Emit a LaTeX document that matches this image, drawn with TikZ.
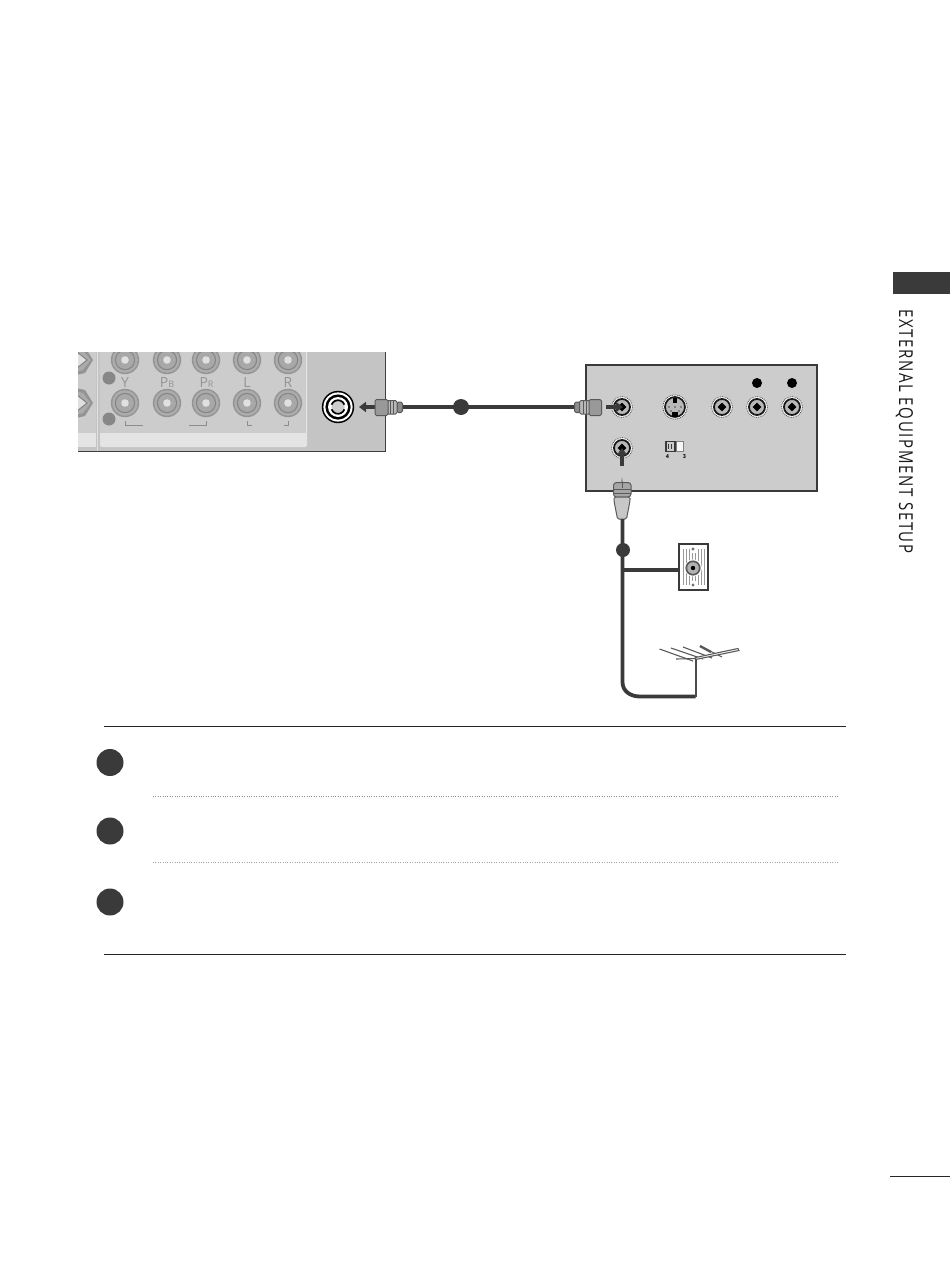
\documentclass[tikz,border=0pt]{standalone}
\usepackage{fontspec}
\usepackage{graphicx}
\setmainfont{Open Sans}
\usetikzlibrary{arrows.meta,calc}
\definecolor{ink}{HTML}{3A3A3A}
\definecolor{panelgray}{HTML}{C4C4C4}
\definecolor{panellight}{HTML}{E4E4E4}
\definecolor{panelmid}{HTML}{CCCCCC}
\tikzset{
  cable/.style={draw=ink,line width=3.6pt},
  rule/.style={draw=black!85,line width=1pt},
  dotrule/.style={draw=black!45,line width=0.8pt,dash pattern=on 1pt off 1.4pt},
  stepdot/.style={circle,fill=ink,minimum size=27pt,inner sep=0pt},
  marker/.style={circle,fill=ink,minimum size=16pt,inner sep=0pt},
  smallmarker/.style={circle,fill=ink,minimum size=14pt,inner sep=0pt},
  labelblack/.style={circle,fill=black,minimum size=10pt,inner sep=0pt},
  greydot/.style={circle,fill=black!47,minimum size=13pt,inner sep=0pt},
  jacklabel/.style={text=black!42,font=\fontsize{14}{14}\selectfont,inner sep=0pt},
  bracket/.style={draw=black!45,line width=0.8pt},
  antenna/.style={draw=black!65,line width=1.1pt},
  pointer/.style={draw=ink,line width=4.6pt,-{Triangle[length=7pt,width=10pt]}},
  plug/.style={fill=black!40,draw=black!65,line width=1pt,rounded corners=1.5pt},
}
\newcommand{\greyjack}[2]{%
  \fill[black!42] (#1,#2) circle (14.2);
  \fill[black!33] (#1,#2) circle (12.8);
  \fill[black!48] (#1,#2) circle (10.2);
  \fill[black!34] (#1,#2) circle (9);
  \fill[black!12] (#1,#2) circle (3.8);
}
\newcommand{\blackjack}[2]{%
  \draw[black!70,line width=0.7pt,dash pattern=on 1pt off .8pt,fill=white] (#1,#2) circle (10.4);
  \draw[black!90,line width=1.8pt,fill=black!28] (#1,#2) circle (8);
  \fill[black] (#1,#2) ++(-4.4,0) -- ++(4.4,-4.4) -- ++(4.4,4.4) -- ++(-4.4,4.4) -- cycle;
}
\begin{document}
\begin{tikzpicture}[x=1pt,y=-1pt]
\useasboundingbox (0,0) rectangle (950,1266);
% --- left panel
\begin{scope}
\clip (78,352) rectangle (386,453);
\fill[panelgray] (78,352) rectangle (385,451.5);
\fill[panellight] (78,345) rectangle (95.5,447);
\fill[panelmid] (78,345) rectangle (95.5,432.5);
\fill[panellight,rounded corners=2pt] (100,340) rectangle (307,447);
\fill[panelmid] (100,340) rectangle (306,432.5);
\draw[black!12,line width=1pt] (97.5,352) -- (97.5,451);
\foreach \yy in {360,403}{
  \fill[black!42] (76,\yy-15) -- (85,\yy-13) -- (93,\yy) -- (85,\yy+13) -- (76,\yy+15) -- cycle;
  \fill[black!33] (76,\yy-12) -- (83,\yy-10) -- (90.5,\yy) -- (83,\yy+10) -- (76,\yy+12) -- cycle;
  \fill[black!48] (76,\yy-9.5) -- (88,\yy) -- (76,\yy+9.5) -- cycle;
  \fill[black!12] (76,\yy-8) -- (86,\yy) -- (76,\yy+8) -- cycle;
}
\foreach \xx in {125,167,206,247,288}{\greyjack{\xx}{360}\greyjack{\xx}{403}}
\end{scope}
\draw[black!75,line width=1pt] (78,451.5) -- (385.5,451.5) -- (385.5,352);
\node[greydot] (dotA) at (109,378) {};
\node[greydot] (dotB) at (109,419) {};
\node[jacklabel] (lblY) at (125,382.5) {Y};
\node[jacklabel] (lblPb) at (167,382.5) {P\fontsize{9}{9}\selectfont B};
\node[jacklabel] (lblPr) at (206.5,382.5) {P\fontsize{9}{9}\selectfont R};
\node[jacklabel] (lblL) at (247,382.5) {L};
\node[jacklabel] (lblR) at (288,382.5) {R};
\draw[bracket] (125.5,421) -- (125.5,425.5) -- (142.5,425.5);
\draw[bracket] (189,425.5) -- (206.5,425.5) -- (206.5,421);
\draw[bracket] (247.5,421) -- (247.5,425.5) -- (252,425.5);
\draw[bracket] (288,421) -- (288,425.5) -- (284,425.5);
% coaxial socket
\fill[black] (338,407) circle (16.2);
\fill[white] (338,407) circle (14.6);
\fill[black] (338,407) circle (12.6);
\fill[white] (338,407) circle (10);
\fill[panelmid] (338,407) circle (6.6);
\draw[black,line width=1.7pt] (338,407) ++(20:6.8) arc (20:160:6.8);
\draw[black,line width=1.7pt] (338,407) ++(200:6.8) arc (200:340:6.8);
% --- cable 1
\coordinate (plugL) at (402,407);
\coordinate (plugR) at (575,407);
\draw[cable] (plugL) -- (plugR);
\node[marker] (mark1) at (461,407) {};
% left plug
\coordinate (tipL) at (359,407);
\coordinate (plugLback) at (376,407);
\draw[pointer] (plugLback) -- (tipL);
\filldraw[plug,fill=black!45] (397,402) rectangle (402.5,412.5);
\filldraw[plug,fill=black!28] (387,400.5) rectangle (397,414);
\filldraw[plug] (375,399.5) rectangle (388,415.5);
\draw[black!65,line width=.6pt] (390.5,400.5) -- (390.5,414) (393.5,400.5) -- (393.5,414);
% --- right panel
\draw[ink,line width=2pt,fill=panelmid] (586,365) rectangle (817,491);
\blackjack{622}{407}
\blackjack{722}{407}
\blackjack{757}{407}
\blackjack{792}{407}
\blackjack{622}{448}
\node[labelblack] (dotC) at (757,383) {};
\node[labelblack] (dotD) at (792,383) {};
% S-video
\draw[black!70,line width=0.7pt,dash pattern=on 1pt off .8pt,fill=white] (675,407) circle (12.2);
\draw[black!90,line width=1.7pt,fill=black!28] (675,407) circle (10);
\fill[black] (673,397.5) rectangle (677,402.5);
\fill[black] (672,412) rectangle (678,417);
\foreach \a/\b in {669/407,681/407,675/407,671/411,679/411}{\fill[black!70] (\a,\b) circle (.8);}
% switch
\draw[ink,line width=1.4pt,fill=black!20] (666,441.5) rectangle (675,451.5);
\fill[black!3] (675.7,441.5) rectangle (683.5,451.5);
\draw[black!50,line width=.4pt] (675.7,441.5) rectangle (683.5,451.5);
\draw[ink,line width=.8pt] (668.8,444) -- (668.8,449) (671.6,444) -- (671.6,449);
\node[inner sep=0pt,font=\fontsize{5.5}{5.5}\selectfont\bfseries] (sw4) at (667.5,457) {4};
\node[inner sep=0pt,font=\fontsize{5.5}{5.5}\selectfont\bfseries] (sw3) at (684.5,457) {3};
% right plug + arrow
\coordinate (plugRend) at (606,407);
\coordinate (tipR) at (623,407);
\draw[pointer] (plugRend) -- (tipR);
\filldraw[plug,fill=black!45] (574.5,402) rectangle (580,412.5);
\filldraw[plug,fill=black!28] (579.5,400.5) rectangle (590,414);
\filldraw[plug] (589,399.5) rectangle (601.5,415.5);
\draw[black!65,line width=.6pt] (583,400.5) -- (583,414) (586,400.5) -- (586,414);
% --- lower arrow & F-plug
\coordinate (tipF) at (622,448);
\coordinate (tailF) at (622,466);
\draw[pointer] (tailF) -- (tipF);
\fill[black!45] (620.5,485) -- (622,477) -- (623.5,485) -- cycle;
\filldraw[plug,fill=black!35,rounded corners=3pt] (613.5,482.5) rectangle (631,497);
\draw[black!65,line width=.8pt] (622,482.5) -- (622,488) (613.5,489) -- (631,489) (613.5,493) -- (631,493);
\filldraw[plug,fill=black!22,rounded corners=1.5pt] (614,497) -- (630,497) -- (630,501) -- (626.5,519) -- (617.5,519) -- (614,501) -- cycle;
% --- antenna cable
\node[smallmarker] (mark2) at (623,550) {};
\coordinate (fBack) at (622.5,519);
\coordinate (bendA) at (622.5,682);
\coordinate (bendB) at (640,696.5);
\coordinate (antFoot) at (695.5,696.5);
\coordinate (antTop) at (695.5,657);
\draw[ink,line width=3.8pt] (fBack) -- (bendA) .. controls (622.5,691) and (630,696.5) .. (bendB) -- (antFoot);
\draw[black!70,line width=2pt] (antFoot) -- (antTop);
% wall plate
\node[draw=ink,line width=1.4pt,fill=white,minimum width=29pt,minimum height=46pt,inner sep=0pt] (plate) at (693.5,567) {};
\draw[cable] (624,570) -- (plate.west |- 0,570);
\foreach \xx in {683,686,689,698,701,704}{\draw[black!40,line width=.6pt] (\xx,549) -- (\xx,585);}
\foreach \xx in {692,695}{\draw[black!40,line width=.6pt] (\xx,553) -- (\xx,581);}
\fill[white] (693.3,568) circle (8.6);
\fill[black!65] (693,568) circle (7.6);
\fill[black!30] (693,568) circle (5.8);
\fill[black] (693,568) circle (2.2);
\draw[black!60,line width=.6pt,fill=white] (693,549) circle (1.1);
\draw[black!60,line width=.6pt,fill=white] (693,585) circle (1.1);
% antenna
\draw[antenna] (659.5,649) -- (693,661);
\draw[antenna] (671,648) -- (703,659);
\draw[antenna] (683,647) -- (712,658);
\draw[antenna] (700,646) -- (722,657);
\draw[antenna,line width=2.4pt] (700,646) -- (711,652);
\draw[antenna] (676,659) -- (695.5,658.5);
\draw[antenna,fill=white] (695.5,657.5) -- (738,648.5) -- (739,650.5) -- (695.5,659.5) -- cycle;
% --- rules and steps
\coordinate (r1a) at (104,726.5); \coordinate (r1b) at (846,726.5);
\coordinate (r2a) at (104,954.5); \coordinate (r2b) at (846,954.5);
\draw[rule] (r1a) -- (r1b);
\draw[rule] (r2a) -- (r2b);
\coordinate (d1a) at (153,796.5); \coordinate (d1b) at (838,796.5);
\coordinate (d2a) at (153,862.5); \coordinate (d2b) at (838,862.5);
\draw[dotrule] (d1a) -- (d1b);
\draw[dotrule,draw=black!35] (d2a) -- (d2b);
\node[stepdot] (s1) at (110,762.5) {};
\node[stepdot] (s2) at (110,831) {};
\node[stepdot] (s3) at (110,902) {};
% --- side tab
\fill[ink] (893,272) rectangle (950,294);
\node[rotate=-90,anchor=west,inner sep=0pt,text=black!90] (side) at (904.5,309)
  {\scalebox{1}[1.28]{\fontsize{15}{15}\selectfont\addfontfeature{LetterSpace=11}EXTERNAL EQUIPMENT SETUP}};
% page-number rule
\coordinate (p1) at (890,1176.5); \coordinate (p2) at (950,1176.5);
\draw[rule] (p1) -- (p2);
\end{tikzpicture}
\end{document}
